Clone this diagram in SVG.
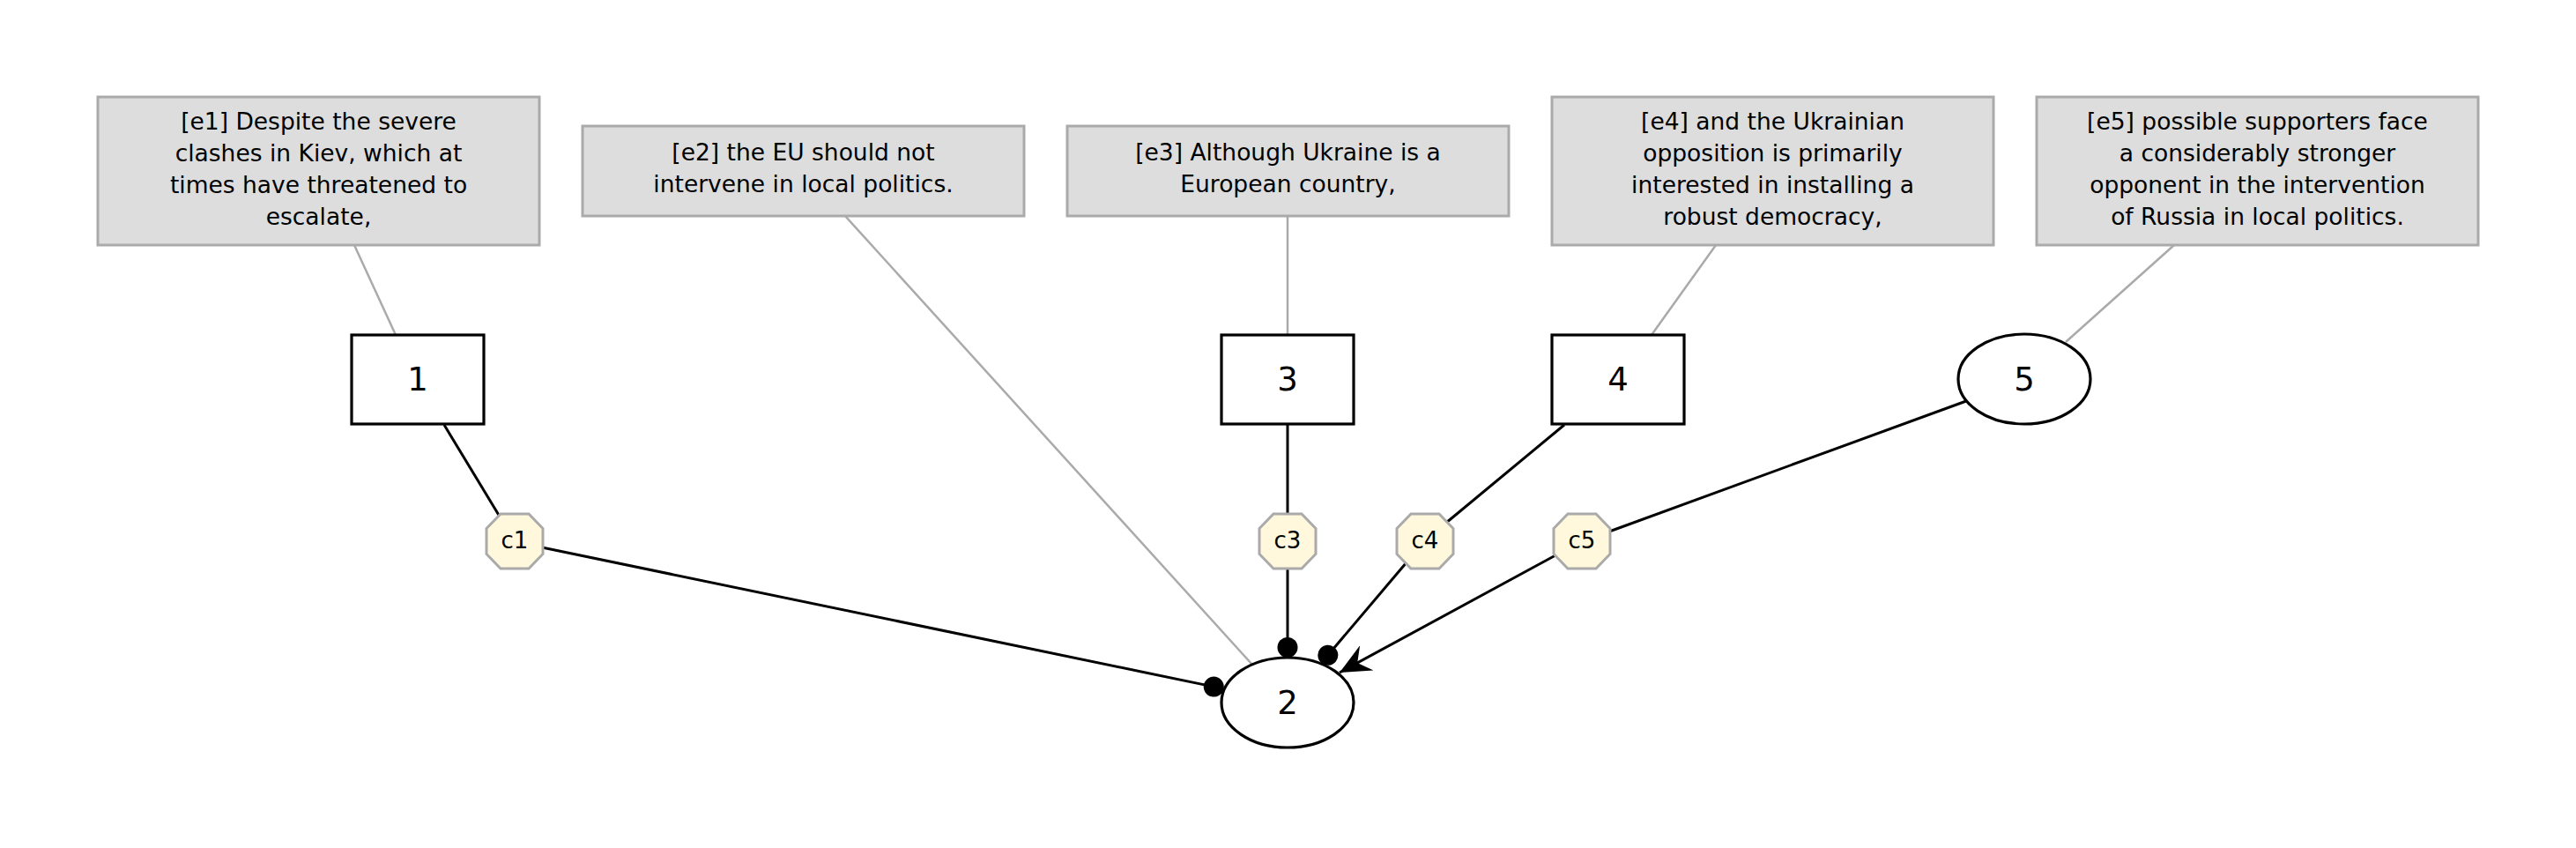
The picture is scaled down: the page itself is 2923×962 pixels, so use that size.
<svg xmlns="http://www.w3.org/2000/svg" width="2923" height="962" viewBox="0 0 2923 962">
<style>
.ebox{fill:#dddddd;stroke:#aaaaaa;stroke-width:3}
.etext{font-family:"DejaVu Sans",sans-serif;font-size:26.5px;fill:#000;text-anchor:middle}
.node{fill:#ffffff;stroke:#000;stroke-width:3.2}
.ntext{font-family:"DejaVu Sans",sans-serif;font-size:37px;fill:#000;text-anchor:middle}
.oct{fill:#fff8dc;stroke:#aaaaaa;stroke-width:3}
.ctext{font-family:"DejaVu Sans",sans-serif;font-size:26px;fill:#000;text-anchor:middle}
.edge{fill:none;stroke:#000;stroke-width:3}
.gedge{fill:none;stroke:#aaaaaa;stroke-width:2.5}
</style>
<defs>
<marker id="dot" markerUnits="userSpaceOnUse" markerWidth="24" markerHeight="24" viewBox="0 0 24 24" refX="23.5" refY="12" orient="auto">
<circle cx="12" cy="12" r="11.5" fill="#000"/>
</marker>
<marker id="vee" markerUnits="userSpaceOnUse" markerWidth="36" markerHeight="32" viewBox="0 0 36 32" refX="35" refY="16" orient="auto">
<path d="M35,16 L0,0 L12,16 L0,32 Z" fill="#000"/>
</marker>
</defs>
<rect width="2923" height="962" fill="#ffffff"/>
<g id="connectors">
<line class="gedge" x1="402" y1="278" x2="449" y2="380"/>
<line class="gedge" x1="959" y1="245" x2="1421" y2="754"/>
<line class="gedge" x1="1461" y1="245" x2="1461" y2="380"/>
<line class="gedge" x1="1947" y1="278" x2="1874" y2="380"/>
<line class="gedge" x1="2467" y1="278" x2="2344" y2="388"/>
<line class="edge" x1="504" y1="482" x2="567" y2="586"/>
<line class="edge" x1="615" y1="621" x2="1388.5" y2="781.4" marker-end="url(#dot)"/>
<line class="edge" x1="1461" y1="482" x2="1461" y2="583"/>
<line class="edge" x1="1461" y1="645" x2="1461" y2="746" marker-end="url(#dot)"/>
<line class="edge" x1="1775" y1="482" x2="1641" y2="593"/>
<line class="edge" x1="1596" y1="638" x2="1499.4" y2="752" marker-end="url(#dot)"/>
<line class="edge" x1="2231" y1="455" x2="1826" y2="603"/>
<line class="edge" x1="1765" y1="630" x2="1520" y2="763" marker-end="url(#vee)"/>
</g>
<g id="e1">
<rect class="ebox" x="111" y="110" width="501" height="168"/>
<text class="etext" x="361.5" y="147">[e1] Despite the severe</text>
<text class="etext" x="361.5" y="183">clashes in Kiev, which at</text>
<text class="etext" x="361.5" y="219">times have threatened to</text>
<text class="etext" x="361.5" y="255">escalate,</text>
</g>
<g id="e2">
<rect class="ebox" x="661" y="143" width="501" height="102"/>
<text class="etext" x="911.5" y="182">[e2] the EU should not</text>
<text class="etext" x="911.5" y="218">intervene in local politics.</text>
</g>
<g id="e3">
<rect class="ebox" x="1211" y="143" width="501" height="102"/>
<text class="etext" x="1461.5" y="182">[e3] Although Ukraine is a</text>
<text class="etext" x="1461.5" y="218">European country,</text>
</g>
<g id="e4">
<rect class="ebox" x="1761" y="110" width="501" height="168"/>
<text class="etext" x="2011.5" y="147">[e4] and the Ukrainian</text>
<text class="etext" x="2011.5" y="183">opposition is primarily</text>
<text class="etext" x="2011.5" y="219">interested in installing a</text>
<text class="etext" x="2011.5" y="255">robust democracy,</text>
</g>
<g id="e5">
<rect class="ebox" x="2311" y="110" width="501" height="168"/>
<text class="etext" x="2561.5" y="147">[e5] possible supporters face</text>
<text class="etext" x="2561.5" y="183">a considerably stronger</text>
<text class="etext" x="2561.5" y="219">opponent in the intervention</text>
<text class="etext" x="2561.5" y="255">of Russia in local politics.</text>
</g>
<g id="n1">
<rect class="node" x="399" y="380" width="150" height="101"/>
<text class="ntext" x="474" y="443">1</text>
</g>
<g id="n3">
<rect class="node" x="1386" y="380" width="150" height="101"/>
<text class="ntext" x="1461" y="443">3</text>
</g>
<g id="n4">
<rect class="node" x="1761" y="380" width="150" height="101"/>
<text class="ntext" x="1836" y="443">4</text>
</g>
<g id="n5">
<ellipse class="node" cx="2297" cy="430" rx="75" ry="51"/>
<text class="ntext" x="2297" y="443">5</text>
</g>
<g id="n2">
<ellipse class="node" cx="1461" cy="797" rx="75" ry="51"/>
<text class="ntext" x="1461" y="810">2</text>
</g>
<g id="c1">
<polygon class="oct" points="568,583 600,583 616,599.5 616,628.5 600,645 568,645 552,628.5 552,599.5"/>
<text class="ctext" x="584" y="622">c1</text>
</g>
<g id="c3">
<polygon class="oct" points="1445,583 1477,583 1493,599.5 1493,628.5 1477,645 1445,645 1429,628.5 1429,599.5"/>
<text class="ctext" x="1461" y="622">c3</text>
</g>
<g id="c4">
<polygon class="oct" points="1601,583 1633,583 1649,599.5 1649,628.5 1633,645 1601,645 1585,628.5 1585,599.5"/>
<text class="ctext" x="1617" y="622">c4</text>
</g>
<g id="c5">
<polygon class="oct" points="1779,583 1811,583 1827,599.5 1827,628.5 1811,645 1779,645 1763,628.5 1763,599.5"/>
<text class="ctext" x="1795" y="622">c5</text>
</g>
</svg>
